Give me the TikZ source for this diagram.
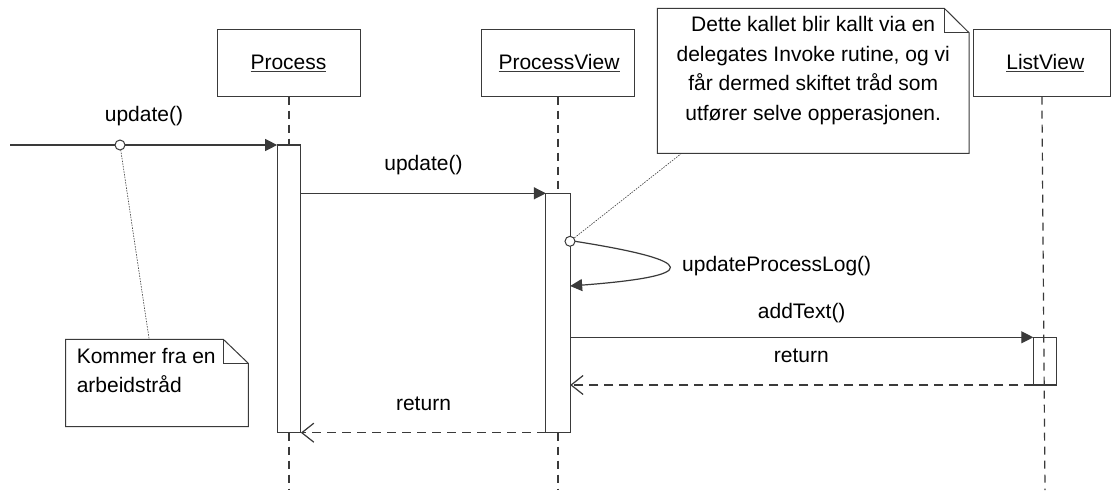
\documentclass[tikz,border=0pt]{standalone}
\usepackage{fontspec}
\setmainfont{Liberation Sans}
\usetikzlibrary{arrows.meta,calc}

\definecolor{ln}{HTML}{3A3A3A}

\begin{document}
\begin{tikzpicture}[x=1pt,y=-1pt,
  line width=1.2pt,
  every node/.style={font=\fontsize{21}{29.5}\selectfont, inner sep=0pt, outer sep=0pt},
  objbox/.style={draw=ln, fill=white, line width=1.2pt},
  lifeline/.style={draw=ln, dash pattern=on 8pt off 6pt, line width=1.2pt},
  actbox/.style={draw=ln, line width=1.2pt},
  msg/.style={draw=ln, line width=1.2pt, -{Triangle[length=12pt,width=12pt]}},
  ret/.style={draw=ln, line width=1.2pt, dash pattern=on 9pt off 6pt,
    -{Straight Barb[length=12pt,width=19pt,line width=1.2pt]}},
  hook/.style={circle, draw=ln, fill=white, line width=1pt, minimum size=10pt},
  notebox/.style={draw=ln, fill=white, line width=1pt},
  noteline/.style={draw=ln, line width=0.6pt, dash pattern=on 1.5pt off 1.2pt},
  lbl/.style={anchor=base},
  ul/.style={draw=ln, line width=1pt},
]
\useasboundingbox[fill=white] (0,0) rectangle (1111,490);

% ---------- objects and their lifelines ----------
\node[objbox, minimum width=143.4pt, minimum height=67.4pt] (P)  at (289,63) {};
\node[objbox, minimum width=152.6pt, minimum height=67.4pt] (PV) at (558,63) {};
\node[objbox, minimum width=137.6pt, minimum height=67.4pt] (LV) at (1041.9,63) {};

\node[lbl] (Pt)  at (288.5,69) {Process};
\node[lbl] (PVt) at (559,69) {ProcessView};
\node[lbl] (LVt) at (1045.3,69) {ListView};
\foreach \t in {Pt,PVt,LVt}
  \draw[ul] ($(\t.base west)+(0,2.2)$) -- ($(\t.base east)+(0,2.2)$);

\coordinate (Pend)  at (289,490);
\coordinate (PVend) at (558,490);
\coordinate (LVend) at (1045,490);
\draw[lifeline] (P.south)  -- (Pend);
\draw[lifeline] (PV.south) -- (PVend);
\draw[lifeline] (LV.south) -- (LVend);

% ---------- activations ----------
\node[actbox, fill=white, minimum width=23.7pt, minimum height=287.7pt] (Pa)  at (289,288.85) {};
\node[actbox, fill=white, minimum width=24.3pt, minimum height=239.4pt] (PVa) at (558,313) {};
\node[actbox, minimum width=23.4pt, minimum height=47.7pt] (LVa) at (1045,361.15) {};

% ---------- messages ----------
\coordinate (src) at (10,145);
\draw[msg] (src) -- (Pa.north west);
\node[hook] (c1) at (120,145) {};
\node[lbl] at (144,121.7) {update()};

\draw[msg] (Pa.east |- PVa.north) -- (PVa.north west);
\node[lbl] at (423.5,170.7) {update()};

\node[hook] (c2) at (570,241.3) {};
\coordinate (selfin) at (0,286);
\draw[draw=ln, line width=1.2pt, -{Triangle[length=12pt,width=12pt]}]
  (c2.east) .. controls (700,261) and (702,276) .. (PVa.east |- selfin);
\node[lbl] at (776.7,271.7) {updateProcessLog()};

\draw[msg] (PVa.east |- LVa.north) -- (LVa.north west);
\node[lbl] at (801.7,318.3) {addText()};

\draw[ret] (LVa.south west) -- (PVa.east |- LVa.south);
\node[lbl] at (801.3,362.7) {return};

\draw[ret] (PVa.south west) -- (Pa.south east);
\node[lbl] at (423.5,410.7) {return};

% ---------- notes ----------
\node[minimum width=182.6pt, minimum height=87.4pt] (n1) at (157,383) {};
\draw[notebox] (n1.south west) -- (n1.north west) -- ($(n1.north east)+(-25,0)$)
  -- ($(n1.north east)+(0,24)$) -- (n1.south east) -- cycle;
\draw[notebox, fill=none] ($(n1.north east)+(-25,0)$) -- ($(n1.north east)+(-25,24)$)
  -- ($(n1.north east)+(0,24)$);
\node[anchor=base west, align=left] at (76.8,392.7) {Kommer fra en\\arbeidstråd};
\draw[noteline] (c1) -- ($(n1.north west)!0.457!(n1.north east)$);

\node[minimum width=311.7pt, minimum height=145pt] (n2) at (813.15,80.8) {};
\draw[notebox] (n2.south west) -- (n2.north west) -- ($(n2.north east)+(-24.7,0)$)
  -- ($(n2.north east)+(0,24.4)$) -- (n2.south east) -- cycle;
\draw[notebox, fill=none] ($(n2.north east)+(-24.7,0)$) -- ($(n2.north east)+(-24.7,24.4)$)
  -- ($(n2.north east)+(0,24.4)$);
\node[anchor=base, align=center] at (813.2,120)
  {Dette kallet blir kallt via en\\delegates Invoke rutine, og vi\\får dermed skiftet tråd som\\utfører selve opperasjonen.};
\draw[noteline] ($(n2.south west)!0.078!(n2.south east)$) -- (c2);
\end{tikzpicture}
\end{document}
